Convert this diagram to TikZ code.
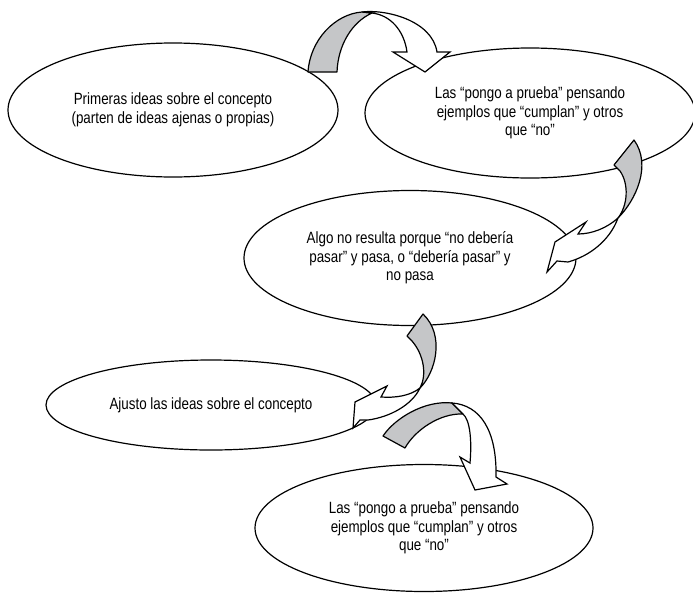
\documentclass[tikz,border=0pt]{standalone}
\usepackage{fontspec}
\setmainfont[FakeStretch=0.82]{Liberation Sans}
\usetikzlibrary{shapes.geometric}
\definecolor{backgray}{RGB}{197,198,200}

\begin{document}
\begin{tikzpicture}[%
    x=1pt, y=-1pt,
    every node/.style={%
      font={\fontsize{16.3}{18.5}\selectfont},
      text=black,
      text centered,
      align=center
    },
    idea/.style={draw=black, line width=1.2pt, ellipse, inner sep=0pt},
    backface/.style={draw=black, line width=1.2pt, fill=backgray, line join=round},
    frontface/.style={draw=black, line width=1.2pt, fill=white}
  ]

  \useasboundingbox (0,0) rectangle (693,592);

  \node[idea, minimum width=330pt, minimum height=134pt] (e1) at (173,110)
    {Primeras ideas sobre el concepto\\(parten de ideas ajenas o propias)};
  \node[idea, minimum width=330pt, minimum height=130pt] (e2) at (530,113)
    {Las “pongo a prueba” pensando\\ejemplos que “cumplan” y otros\\que “no”};
  \node[idea, minimum width=332pt, minimum height=135pt] (e3) at (410,258)
    {Algo no resulta porque “no debería\\pasar” y pasa, o “debería pasar” y\\no pasa};
  \node[idea, minimum width=330pt, minimum height=90pt] (e4) at (211,405)
    {Ajusto las ideas sobre el concepto};
  \node[idea, minimum width=338pt, minimum height=127pt] (e5) at (424,528)
    {Las “pongo a prueba” pensando\\ejemplos que “cumplan” y otros\\que “no”};

  % Curved arrows, back face grey
  \draw[backface] (308,72) .. controls (310,40) and (335,14) .. (362,12)
    -- (372,13) .. controls (352,22) and (338,45) .. (337,72) -- cycle;
  \draw[frontface] (362,12) .. controls (385,9) and (432,20) .. (437,52)
    -- (450,52) -- (425,72) -- (393,52) -- (407,52)
    .. controls (404,30) and (390,15) .. (372,13) -- cycle;

  \draw[backface] (634,140) -- (614,165) -- (620,171)
    .. controls (629,184) and (628,205) .. (618,218)
    .. controls (636,200) and (652,165) .. (634,140) -- cycle;
  \draw[frontface] (618,218) .. controls (607,228) and (592,234) .. (578,234)
    -- (586,222) -- (555,242) -- (547,272) -- (557,261) -- (568,262)
    .. controls (590,256) and (610,240) .. (618,218) -- cycle;

  \draw[backface] (423,314) -- (407,336) -- (412,341)
    .. controls (424,355) and (427,375) .. (420,388)
    .. controls (436,372) and (445,335) .. (423,314) -- cycle;
  \draw[frontface] (420,388) .. controls (410,396) and (395,398) .. (381,397)
    -- (387,386) -- (355,402) -- (353,428) -- (360,420) -- (368,420)
    .. controls (390,417) and (412,405) .. (420,388) -- cycle;

  \draw[backface] (383,436) .. controls (395,418) and (425,400) .. (452,403)
    -- (463,414) .. controls (440,413) and (415,430) .. (405,448) -- cycle;
  \draw[frontface] (452,403) .. controls (480,405) and (497,430) .. (496,477)
    -- (507,484) -- (475,490) -- (460,457) -- (470,463)
    .. controls (472,440) and (470,420) .. (463,414) -- cycle;

\end{tikzpicture}
\end{document}
